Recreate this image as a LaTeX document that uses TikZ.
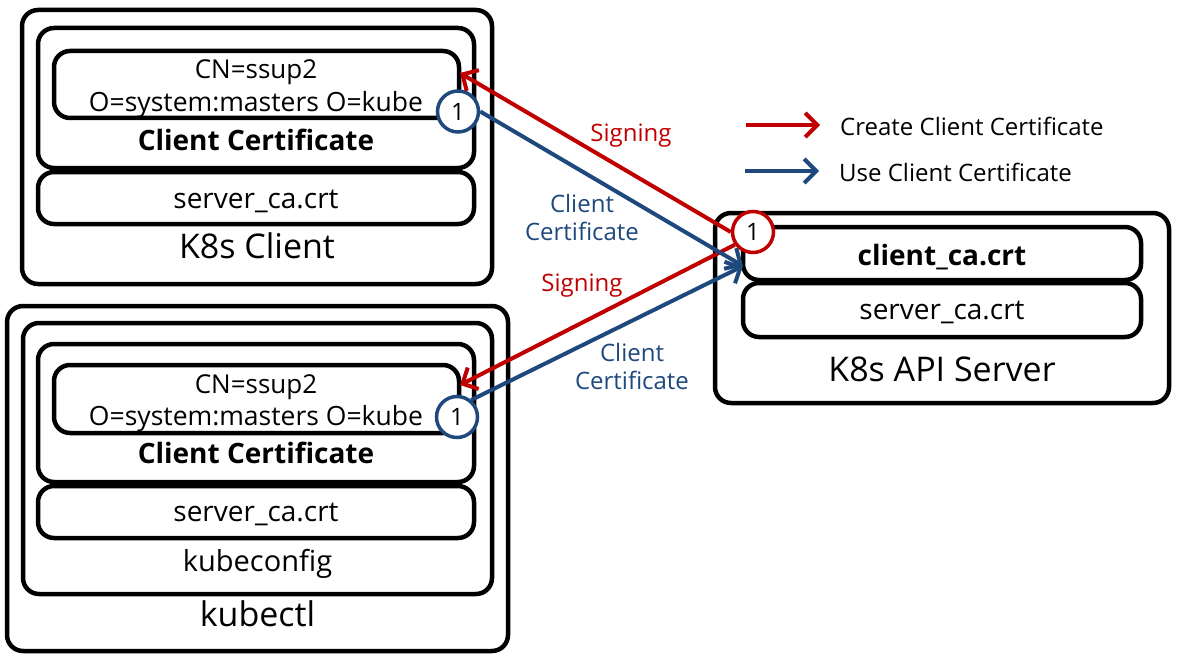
\documentclass[tikz,border=0pt]{standalone}
\usepackage{fontspec}
\setmainfont{Open Sans}
\usetikzlibrary{arrows.meta}
\definecolor{cred}{HTML}{C00000}
\definecolor{cblue}{HTML}{1F497D}
\newcommand\fs[1]{\fontsize{#1}{#1}\selectfont}
\begin{document}
\begin{tikzpicture}[x=1pt,y=-1pt,
  box/.style={draw=black,line width=4.5pt,rounded corners=16pt,inner sep=0pt,fill=white},
  lbl/.style={inner sep=0pt,anchor=base},
  num/.style={circle,draw=#1,line width=3.5pt,fill=white,minimum size=41pt,inner sep=0pt,font=\fs{24}},
  arr/.style={draw=#1,line width=4pt,-{Straight Barb[length=12pt,width=24pt]}},
  sig/.style={text=cred,font=\fs{24},inner sep=0pt},
  cc/.style={text=cblue,font=\fs{24},align=center,inner sep=0pt}
]
\useasboundingbox (0,0) rectangle (1177,658);
% K8s Client
\node[box,minimum width=470pt,minimum height=274pt] (kc) at (257,147) {};
\node[box,minimum width=436pt,minimum height=140pt] (kcg) at (256,98) {};
\node[box,minimum width=405pt,minimum height=67pt] (kci) at (256.5,84.5) {};
\node[box,minimum width=436pt,minimum height=52pt] (kcs) at (256,198) {};
\node[lbl,font=\fs{26}] (kcn) at (256,79) {CN=ssup2};
\node[lbl,font=\fs{26.5}] (kco) at (256,112) {O=system:masters O=kube};
\node[lbl,font=\bfseries\fs{28}] (kct) at (256,150) {Client Certificate};
\node[lbl,font=\fs{28}] (kcst) at (256,208) {server\_ca.crt};
\node[lbl,font=\fs{34}] (kcl) at (257,258) {K8s Client};
% kubectl
\node[box,minimum width=501pt,minimum height=345pt] (kb) at (257.5,478.5) {};
\node[box,minimum width=469pt,minimum height=271pt] (kbc) at (257.5,458.5) {};
\node[box,minimum width=436pt,minimum height=138pt] (kbg) at (256,413) {};
\node[box,minimum width=405pt,minimum height=68pt] (kbi) at (256.5,399) {};
\node[box,minimum width=436pt,minimum height=52pt] (kbs) at (256,512) {};
\node[lbl,font=\fs{26}] (kbn) at (256,393) {CN=ssup2};
\node[lbl,font=\fs{26.5}] (kbo) at (256,425) {O=system:masters O=kube};
\node[lbl,font=\bfseries\fs{28}] (kbt) at (256,463) {Client Certificate};
\node[lbl,font=\fs{28}] (kbst) at (256,521.5) {server\_ca.crt};
\node[lbl,font=\fs{29}] (kbcl) at (257.5,571.5) {kubeconfig};
\node[lbl,font=\fs{34}] (kbl) at (257.5,626.5) {kubectl};
% API server
\node[box,minimum width=454pt,minimum height=190pt] (as) at (942,308) {};
\node[box,minimum width=398pt,minimum height=53pt] (asc) at (942,253.5) {};
\node[box,minimum width=398pt,minimum height=54pt] (ass) at (942,310) {};
\node[lbl,font=\bfseries\fs{28}] (asct) at (942,265) {client\_ca.crt};
\node[lbl,font=\fs{28}] (asst) at (942,319) {server\_ca.crt};
\node[lbl,font=\fs{34}] (asl) at (942,381.5) {K8s API Server};
% circles
\node[num=cred] (rc) at (753,232) {1};
\node[num=cblue] (bc1) at (458,111.5) {1};
\node[num=cblue] (bc2) at (457,417) {1};
% arrow targets
\coordinate (t1) at (460,73);
\coordinate (t2) at (460,385);
\coordinate (ts) at (743,266);
\draw[arr=cred] (rc.180) -- (t1);
\draw[arr=cred] (rc.215) -- (t2);
\draw[arr=cblue] (bc1.east) -- (ts);
\draw[arr=cblue] (bc2.50) -- (ts);
% labels
\node[sig] (s1) at (631,136) {Signing};
\node[sig] (s2) at (582,286) {Signing};
\node[cc] (c1) at (582,217) {Client\\[4pt]Certificate};
\node[cc] (c2) at (632,366) {Client\\[4pt]Certificate};
% legend
\coordinate (la1) at (746,125);
\coordinate (lb1) at (820,125);
\coordinate (la2) at (745,171);
\coordinate (lb2) at (819,171);
\draw[arr=cred] (la1) -- (lb1);
\draw[arr=cblue] (la2) -- (lb2);
\node[anchor=west,inner sep=0pt,font=\fs{24}] (lt1) at (840,126) {Create Client Certificate};
\node[anchor=west,inner sep=0pt,font=\fs{24}] (lt2) at (839,172) {Use Client Certificate};
\end{tikzpicture}
\end{document}
